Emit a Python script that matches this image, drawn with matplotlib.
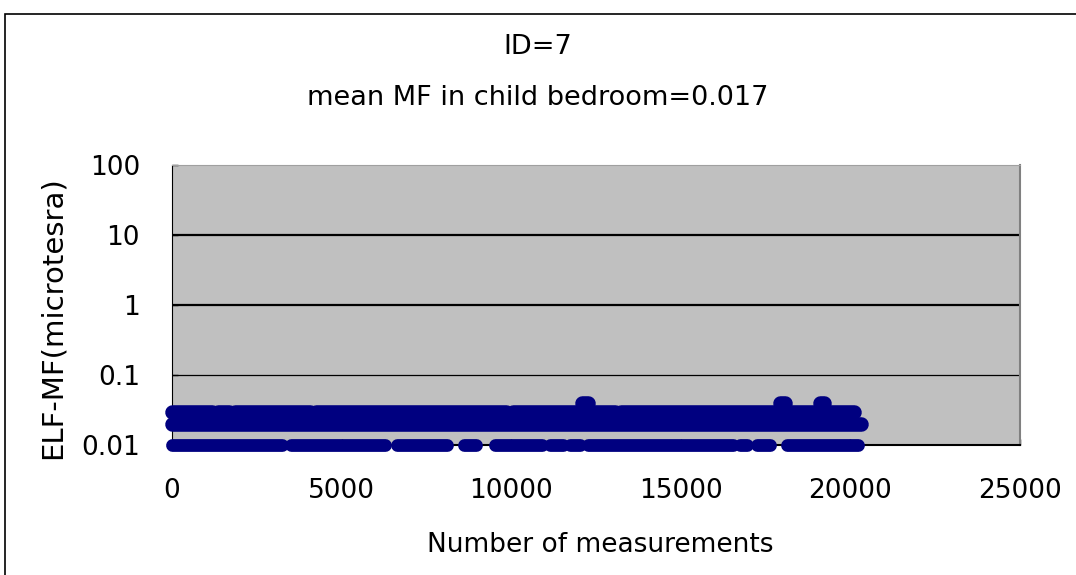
import matplotlib
matplotlib.use("Agg")
import matplotlib.pyplot as plt
from matplotlib.patches import Rectangle

# runs of consecutive readings at each level (start, end)
runs_001_start = [0, 3500, 6633, 8600, 9522, 11144, 11733, 12264, 16745, 17246, 18130]
runs_001_end = [3250, 6280, 8107, 8950, 10908, 11527, 12028, 16539, 16951, 17630, 20224]

runs_002_start = [0]
runs_002_end = [20300]

runs_003_start = [0, 1370, 1870, 4260, 10060, 13250]
runs_003_end = [1170, 1670, 4060, 9860, 13050, 20100]

runs_004_start = [12100, 17930, 19100]
runs_004_end = [12250, 18080, 19230]

levels = [0.01, 0.02, 0.03, 0.04]
starts = [runs_001_start, runs_002_start, runs_003_start, runs_004_start]
ends = [runs_001_end, runs_002_end, runs_003_end, runs_004_end]

xticks = [0, 5000, 10000, 15000, 20000, 25000]
yticks = [0.01, 0.1, 1, 10, 100]
ytick_labels = ["0.01", "0.1", "1", "10", "100"]

plt.rcParams['font.family'] = ['DejaVu Sans']
fs = 19

fig = plt.figure(figsize=(10.76, 5.75), dpi=100)
fig.patch.set_facecolor("white")
ax = fig.add_axes([172/1076, 1-445/575, (1020-172)/1076, (445-165)/575])
ax.set_facecolor("#c0c0c0")

for lvl, ss, ee in zip(levels, starts, ends):
  lw = 9.2 if lvl == 0.01 else 10.5
  for s, e in zip(ss, ee):
    ax.plot([s, e], [lvl, lvl], color="#000080", lw=lw,
            solid_capstyle="round", clip_on=False, zorder=3)

ax.set_yscale("log")
ax.set_ylim(0.01, 100)
ax.set_xlim(0, 25000)

ax.axhline(10, color="black", lw=1.6, zorder=2)
ax.axhline(1, color="black", lw=1.6, zorder=2)
ax.axhline(0.1, color="black", lw=0.9, zorder=2)

ax.set_xticks(xticks)
ax.set_xticklabels([str(t) for t in xticks])
ax.set_yticks(yticks)
ax.set_yticklabels(ytick_labels)
ax.minorticks_off()
ax.tick_params(direction="in", length=4, width=1, labelsize=fs)
ax.tick_params(axis="y", pad=23)
ax.tick_params(axis="x", pad=24)

ax.spines["left"].set_color("black")
ax.spines["bottom"].set_color("black")
ax.spines["bottom"].set_linewidth(1.5)
ax.spines["top"].set_color("#a0a0a0")
ax.spines["right"].set_color("#808080")
ax.spines["right"].set_linewidth(1.5)

fig.text(600/1076, 1-545/575, "Number of measurements", ha="center", va="center", fontsize=fs)
fig.text(53/1076, 1-318/575, "ELF-MF(microtesra)", ha="center", va="center",
         rotation=90, fontsize=21)

fig.text(0.5, 1-47/575, "ID=7", ha="center", va="center", fontsize=19.5)
fig.text(0.5, 1-98/575, "mean MF in child bedroom=0.017", ha="center", va="center", fontsize=19.5)

fig.patches.append(Rectangle((5/1076, -0.1), 1.1, 1.1 - 14/575, transform=fig.transFigure,
                             fill=False, edgecolor="black", lw=1.2))

plt.savefig("out.png", dpi=100)
